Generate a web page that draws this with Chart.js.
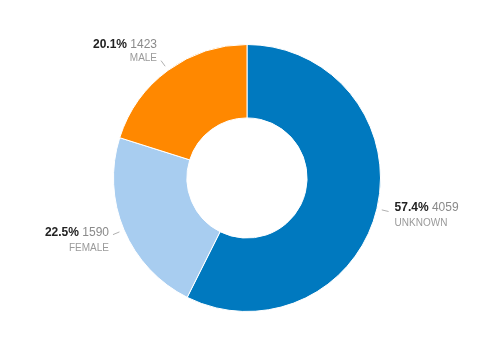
<!DOCTYPE html>
<html><head><meta charset="utf-8">
<script src="https://cdn.jsdelivr.net/npm/chart.js@4/dist/chart.umd.min.js"></script>
<style>html,body{margin:0;padding:0;background:#fff;}#wrap{width:483px;height:357px;position:relative;}</style>
</head><body><div id="wrap"><canvas id="c"></canvas></div>
<script>
const categories = ["UNKNOWN", "FEMALE", "MALE"];
const values = [4059, 1590, 1423];
const percentLabels = ["57.4%", "22.5%", "20.1%"];
const colors = ["#0079BF", "#A8CDF0", "#FF8800"];

const labelPlugin = {
  id: 'sliceLabels',
  afterDatasetsDraw(chart) {
    const ctx = chart.ctx;
    const meta = chart.getDatasetMeta(0);
    meta.data.forEach((arc, i) => {
      const p = arc.getProps(['x','y','startAngle','endAngle','outerRadius'], true);
      const mid = (p.startAngle + p.endAngle) / 2;
      const c = Math.cos(mid), s = Math.sin(mid);
      const r1 = p.outerRadius + 5, r2 = p.outerRadius + 12;
      const sx = p.x + c * r1, sy = p.y + s * r1;
      const ex = p.x + c * r2, ey = p.y + s * r2;
      ctx.save();
      ctx.strokeStyle = '#b0b0b0';
      ctx.lineWidth = 1;
      ctx.beginPath(); ctx.moveTo(sx, sy); ctx.lineTo(ex, ey); ctx.stroke();
      const right = c >= 0;
      const upper = s < -0.6;
      const tx = right ? ex + 6 : ex - 4;
      let y1, y2;
      if (upper) { y1 = ey - 16; y2 = ey - 2; }
      else if (right) { y1 = ey - 4; y2 = ey + 12; }
      else { y1 = ey - 2; y2 = ey + 14; }
      ctx.textBaseline = 'middle';
      const pct = percentLabels[i], num = ' ' + values[i];
      ctx.font = 'bold 12px "Liberation Sans", Arial, sans-serif';
      const wp = ctx.measureText(pct).width;
      ctx.font = '12px "Liberation Sans", Arial, sans-serif';
      const wn = ctx.measureText(num).width;
      let x0 = right ? tx : tx - (wp + wn);
      ctx.textAlign = 'left';
      ctx.font = 'bold 12px "Liberation Sans", Arial, sans-serif';
      ctx.fillStyle = '#222222';
      ctx.fillText(pct, x0, y1);
      ctx.font = '12px "Liberation Sans", Arial, sans-serif';
      ctx.fillStyle = '#8a8a8a';
      ctx.fillText(num, x0 + wp, y1);
      ctx.font = '10px "Liberation Sans", Arial, sans-serif';
      ctx.fillStyle = '#9a9a9a';
      ctx.textAlign = right ? 'left' : 'right';
      ctx.fillText(categories[i], tx, y2);
      ctx.restore();
    });
  }
};

new Chart(document.getElementById('c'), {
  type: 'doughnut',
  data: {
    labels: categories,
    datasets: [{
      data: values,
      backgroundColor: colors,
      borderColor: '#ffffff',
      borderWidth: 1,
      hoverOffset: 0
    }]
  },
  options: {
    responsive: true,
    maintainAspectRatio: false,
    animation: false,
    cutout: '45%',
    layout: { padding: { left: 113, right: 102, top: 44, bottom: 45 } },
    plugins: { legend: { display: false }, tooltip: { enabled: false } }
  },
  plugins: [labelPlugin]
});
</script>
</body></html>
